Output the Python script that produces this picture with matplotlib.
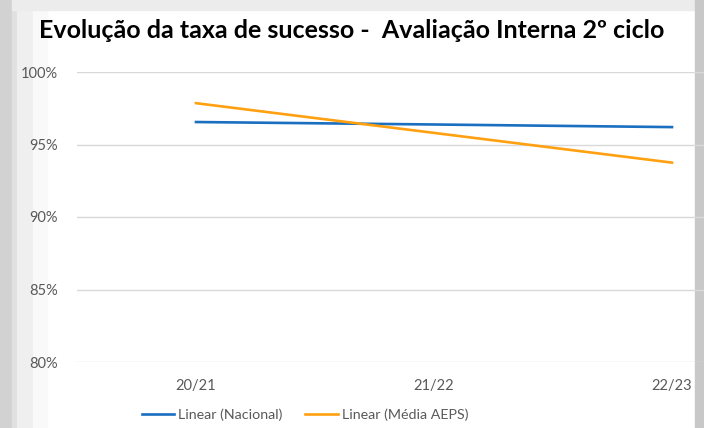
import matplotlib.pyplot as plt
from matplotlib.patches import Rectangle

plt.rcParams['font.family'] = ['Lato', 'DejaVu Sans']

# data
anos = ['20/21', '21/22', '22/23']
nacional = [96.55, 96.38, 96.2]
media_aeps = [97.85, 95.8, 93.75]
y_ticks = [80, 85, 90, 95, 100]

fig = plt.figure(figsize=(7.04, 4.28), dpi=100)

# grey shadow around the pasted chart
for x0, w, c in [(0, 12, '#d2d2d2'), (12, 5, '#e0e0e0'), (17, 16, '#efefef'), (33, 14, '#f9f9f9')]:
    fig.patches.append(Rectangle((x0 / 704, 0), w / 704, 1, transform=fig.transFigure,
                                 color=c, zorder=-5))
fig.patches.append(Rectangle((12 / 704, 418 / 428), 683 / 704, 10 / 428, transform=fig.transFigure,
                             color='#ececec', zorder=-4))
fig.patches.append(Rectangle((695 / 704, 0), 9 / 704, 1, transform=fig.transFigure,
                             color='#c8c8c8', zorder=-4))

# plot area goes past the right edge (chart was cropped)
ax = fig.add_axes([77 / 704, 66 / 428, 714 / 704, 290 / 428])
ax.set_facecolor('none')
x = range(len(anos))
ax.plot(x, nacional, color='#1a6fc1', lw=1.9, label='Linear (Nacional)', clip_on=False)
ax.plot(x, media_aeps, color='#ffa010', lw=1.9, label='Linear (Média AEPS)', clip_on=False)

ax.set_xlim(-0.5, 2.5)
ax.set_ylim(80, 100)
ax.set_yticks(y_ticks)
ax.set_yticklabels([f'{v}%' for v in y_ticks])
ax.set_xticks(list(x))
ax.set_xticklabels(anos)
ax.grid(axis='y', color='#d9d9d9', lw=1)
ax.set_axisbelow(True)
for s in ax.spines.values():
    s.set_visible(False)
ax.tick_params(length=0, colors='#595959', labelsize=10.5)
ax.tick_params(axis='y', pad=13.5)
ax.tick_params(axis='x', pad=12)

fig.text(352 / 704, 398 / 428, 'Evolução da taxa de sucesso -  Avaliação Interna 2º ciclo',
         ha='center', va='center', fontsize=18, fontweight='bold', color='black')

fig.legend(loc='center', bbox_to_anchor=(305 / 704, 13 / 428), ncol=2, frameon=False,
           fontsize=10.3, handlelength=2.25, handletextpad=0.3, columnspacing=1.6,
           labelcolor='#595959')

fig.savefig('out.png', dpi=100)
